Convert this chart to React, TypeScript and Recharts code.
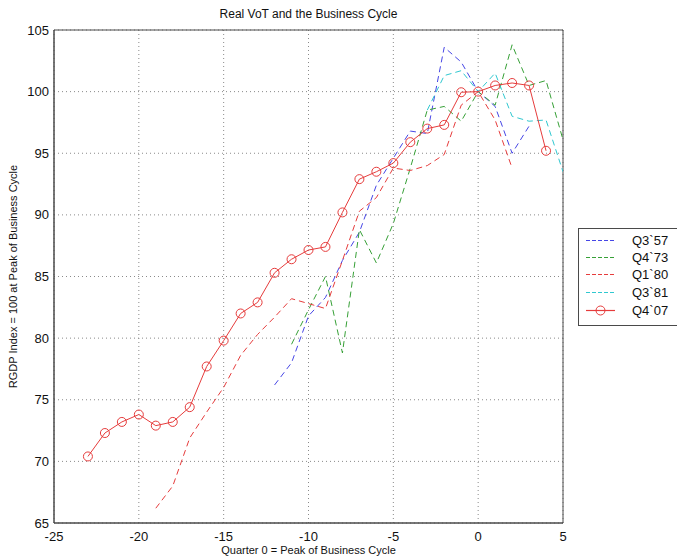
import React from 'react';
import {
  LineChart,
  Line,
  XAxis,
  YAxis,
  CartesianGrid,
  Legend,
  ReferenceArea,
} from 'recharts';

// Quarters relative to the business-cycle peak (quarter 0)
const quarters = [
  -23, -22, -21, -20, -19, -18, -17, -16, -15, -14, -13, -12, -11, -10, -9, -8,
  -7, -6, -5, -4, -3, -2, -1, 0, 1, 2, 3, 4, 5,
];

// Real GDP index (100 at the peak) for each cycle, aligned with `quarters`
const q357 = [
  null, null, null, null, null, null, null, null, null, null, null,
  76.2, 78.0, 81.8, 83.3, 86.3, 88.6, 92.4, 94.6, 96.8, 96.6, 103.6, 102.4,
  100, 98.8, 95.0, 97.2, null, null,
];
const q473 = [
  null, null, null, null, null, null, null, null, null, null, null, null,
  79.5, 82.3, 85.0, 78.8, 88.8, 86.1, 89.3, 93.8, 98.5, 98.8, 97.6,
  100, 98.9, 103.8, 100.5, 100.9, 96.1,
];
const q180 = [
  null, null, null, null,
  66.2, 68.0, 71.9, 74.0, 76.0, 78.6, 80.3, 81.7, 83.2, 82.8, 82.4, 86.3,
  90.3, 91.4, 93.8, 93.6, 94.0, 94.9, 98.9,
  100, 97.7, 93.8, null, null, null,
];
const q381 = [
  null, null, null, null, null, null, null, null, null, null, null, null,
  null, null, null, null, null, null, null, null,
  98.5, 101.3, 101.7, 100, 101.5, 98.0, 97.6, 97.7, 93.5,
];
const q407 = [
  70.4, 72.3, 73.2, 73.8, 72.9, 73.2, 74.4, 77.7, 79.8, 82.0, 82.9, 85.3,
  86.4, 87.15, 87.4, 90.2, 92.9, 93.5, 94.2, 95.9, 97.0, 97.3, 99.95,
  100, 100.5, 100.7, 100.5, 95.2, null,
];

const xTicks = [-25, -20, -15, -10, -5, 0, 5];
const yTicks = [65, 70, 75, 80, 85, 90, 95, 100, 105];

const seriesNames = ['Q3`57', 'Q4`73', 'Q1`80', 'Q3`81', 'Q4`07'];

const rows = quarters.map((q, i) => ({
  q,
  q357: q357[i],
  q473: q473[i],
  q180: q180[i],
  q381: q381[i],
  q407: q407[i],
}));

const FONT = '"Liberation Sans", Arial, Helvetica, sans-serif';
const BLUE = '#4646e6';
const GREEN = '#36a036';
const RED = '#e63c3c';
const CYAN = '#30c8d0';
const AXIS = '#4a4a4a';

const legendItems = [
  { name: seriesNames[0], color: BLUE, marker: false },
  { name: seriesNames[1], color: GREEN, marker: false },
  { name: seriesNames[2], color: RED, marker: false },
  { name: seriesNames[3], color: CYAN, marker: false },
  { name: seriesNames[4], color: RED, marker: true },
];
const ROW_TOPS = [2, 19, 36, 54, 72];

function LegendBox() {
  return (
    <div
      style={{
        border: `1px solid ${AXIS}`,
        background: '#fff',
        width: 104,
        height: 98,
        boxSizing: 'border-box',
        position: 'relative',
        fontFamily: FONT,
        fontSize: 13,
      }}
    >
      {legendItems.map((it, i) => (
        <div
          key={it.name}
          style={{ position: 'absolute', left: 0, top: ROW_TOPS[i], height: 19, width: 100 }}
        >
          <svg width={34} height={19} style={{ position: 'absolute', left: 6, top: 0, display: 'block' }}>
            <path
              d="M1 9.5 H30"
              fill="none"
              stroke={it.color}
              strokeWidth={1.2}
              strokeDasharray={it.marker ? undefined : '4 2'}
            />
            {it.marker && (
              <circle cx={15.5} cy={9.5} r={4.5} fill="none" stroke={it.color} strokeWidth={1} />
            )}
          </svg>
          <span
            style={{ position: 'absolute', left: 53, top: 0, color: '#111', lineHeight: '19px' }}
          >
            {it.name}
          </span>
        </div>
      ))}
    </div>
  );
}

const YLabel = (props: any) => {
  const vb = props.viewBox || { x: 0, y: 30, width: 54, height: 493 };
  const cx = vb.x + 17;
  const cy = vb.y + vb.height / 2;
  return (
    <text
      x={cx}
      y={cy}
      transform={`rotate(-90 ${cx} ${cy})`}
      textAnchor="middle"
      fontSize={11}
      fontFamily={FONT}
      fill="#111"
    >
      RGDP Index = 100 at Peak of Business Cycle
    </text>
  );
};

const XLabel = (props: any) => {
  const vb = props.viewBox || { x: 54, y: 523, width: 509, height: 37 };
  return (
    <text
      x={vb.x + vb.width / 2}
      y={vb.y + 31}
      textAnchor="middle"
      fontSize={11}
      fontFamily={FONT}
      fill="#111"
    >
      Quarter 0 = Peak of Business Cycle
    </text>
  );
};

export default function App() {
  return (
    <div
      style={{
        position: 'absolute',
        left: 0,
        top: 0,
        width: 677,
        height: 560,
        overflow: 'hidden',
        background: '#fff',
      }}
    >
      <div
        style={{
          position: 'absolute',
          left: 0,
          width: 617,
          top: 6,
          textAlign: 'center',
          fontFamily: FONT,
          fontSize: 12,
          color: '#111',
          lineHeight: '16px',
        }}
      >
        Real VoT and the Business Cycle
      </div>
      <LineChart
        width={677}
        height={560}
        data={rows}
        margin={{ top: 30, right: 114, bottom: 0, left: 0 }}
      >
        <CartesianGrid stroke="#8a8a8a" strokeDasharray="1 3" />
        <XAxis
          dataKey="q"
          type="number"
          domain={[-25, 5]}
          ticks={xTicks}
          allowDataOverflow
          height={37}
          tickSize={0}
          tickMargin={9}
          tickLine={false}
          axisLine={{ stroke: AXIS }}
          tick={{ fontSize: 13, fill: '#111', fontFamily: FONT }}
          label={{ content: XLabel }}
        />
        <YAxis
          type="number"
          domain={[65, 105]}
          ticks={yTicks}
          allowDataOverflow
          width={54}
          tickSize={0}
          tickMargin={5}
          tickLine={false}
          axisLine={{ stroke: AXIS }}
          tick={{ fontSize: 13, fill: '#111', fontFamily: FONT }}
          label={{ content: YLabel }}
        />
        <ReferenceArea x1={-25} x2={5} y1={65} y2={105} fill="none" stroke={AXIS} strokeWidth={1} />
        <Line
          name={seriesNames[0]}
          dataKey="q357"
          stroke={BLUE}
          strokeWidth={1}
          strokeDasharray="6 4"
          dot={false}
          isAnimationActive={false}
        />
        <Line
          name={seriesNames[1]}
          dataKey="q473"
          stroke={GREEN}
          strokeWidth={1}
          strokeDasharray="6 4"
          dot={false}
          isAnimationActive={false}
        />
        <Line
          name={seriesNames[2]}
          dataKey="q180"
          stroke={RED}
          strokeWidth={1}
          strokeDasharray="6 4"
          dot={false}
          isAnimationActive={false}
        />
        <Line
          name={seriesNames[3]}
          dataKey="q381"
          stroke={CYAN}
          strokeWidth={1}
          strokeDasharray="6 4"
          dot={false}
          isAnimationActive={false}
        />
        <Line
          name={seriesNames[4]}
          dataKey="q407"
          stroke={RED}
          strokeWidth={1}
          dot={{ r: 4.5, fill: 'none', stroke: RED, strokeWidth: 1 }}
          isAnimationActive={false}
        />
        <Legend
          layout="horizontal"
          align="center"
          verticalAlign="middle"
          content={() => <LegendBox />}
          wrapperStyle={{ left: 578, top: 228, width: 104, height: 98, right: 'auto', bottom: 'auto' }}
        />
      </LineChart>
    </div>
  );
}
